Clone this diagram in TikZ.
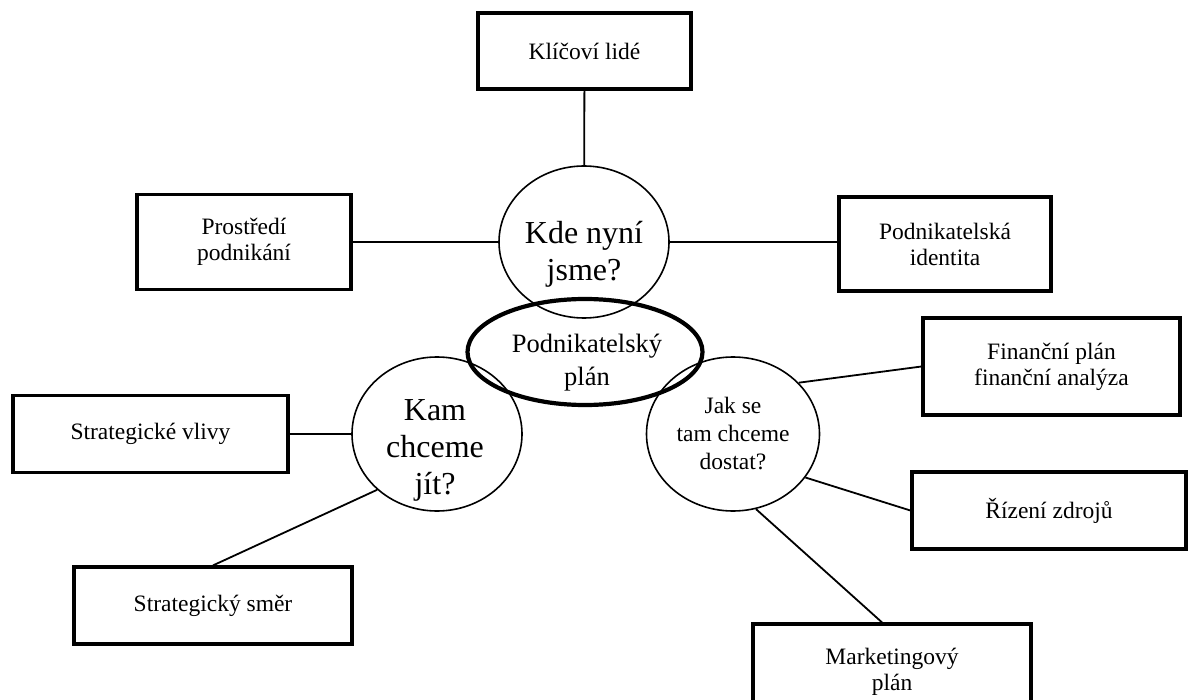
\documentclass[tikz,border=0pt]{standalone}
\usepackage{fontspec}
\setmainfont{Liberation Serif}
\usetikzlibrary{shapes.geometric}
\begin{document}
\begin{tikzpicture}[x=1pt,y=-1pt,
  box/.style={draw, rectangle, line width=3.2pt, inner sep=0pt, align=center,
              font=\fontsize{23.5}{26}\selectfont},
  circ/.style={draw, ellipse, line width=1.6pt, inner sep=0pt},
  mainell/.style={draw, ellipse, line width=4.2pt, inner sep=0pt},
  bigtext/.style={align=center, inner sep=0pt, font=\fontsize{32}{37}\selectfont},
  midtext/.style={align=center, inner sep=0pt, font=\fontsize{26.5}{33}\selectfont},
  link/.style={line width=1.8pt}
]
\useasboundingbox (0,0) rectangle (1190,700);

% boxes
\node[box, minimum width=213, minimum height=76] (kl)  at (584.5,51)   {Klíčoví lidé};
\node[box, minimum width=214, minimum height=95] (pr)  at (244,242)    {Prostředí\\podnikání};
\node[box, minimum width=212, minimum height=94] (id)  at (945,244)    {Podnikatelská\\identita};
\node[box, minimum width=257, minimum height=97] (fin) at (1051.5,366.5) {Finanční plán\\finanční analýza};
\node[box, minimum width=275, minimum height=77] (vl)  at (150.5,434)  {Strategické vlivy};
\node[box, minimum width=274, minimum height=77] (ri)  at (1049,510.5) {Řízení zdrojů};
\node[box, minimum width=278, minimum height=77] (sm)  at (213,605.5)  {Strategický směr};
\node[box, minimum width=278, minimum height=95] (mk)  at (892,671.5)  {Marketingový\\plán};

% circles
\node[circ, minimum width=170, minimum height=152] (kde) at (584,242) {};
\node[bigtext] (kdet) at (584,254) {Kde nyní\\jsme?};
\node[circ, minimum width=170, minimum height=154] (kam) at (437,434) {};
\node[bigtext] (kamt) at (435,450) {Kam\\chceme\\jít?};
\node[circ, minimum width=173, minimum height=154, align=center,
      font=\fontsize{23.5}{28}\selectfont] (jak) at (733,434) {Jak se\\tam chceme\\dostat?};
\node[mainell, minimum width=235, minimum height=106] (pl) at (585,352) {};
\node[midtext] (plt) at (587,363) {Podnikatelský\\plán};

% connectors
\draw[link] (kl) -- (kde);
\draw[link] (pr) -- (kde);
\draw[link] (kde) -- (kde -| id.west);
\draw[link] (vl) -- (kam);
\draw[link] (sm.north) -- (kam.223);
\draw[link] (jak.38) -- (fin.west);
\draw[link] (jak.-31) -- (ri.west);
\draw[link] (jak.-73) -- ([xshift=-10pt]mk.north);
\end{tikzpicture}
\end{document}
